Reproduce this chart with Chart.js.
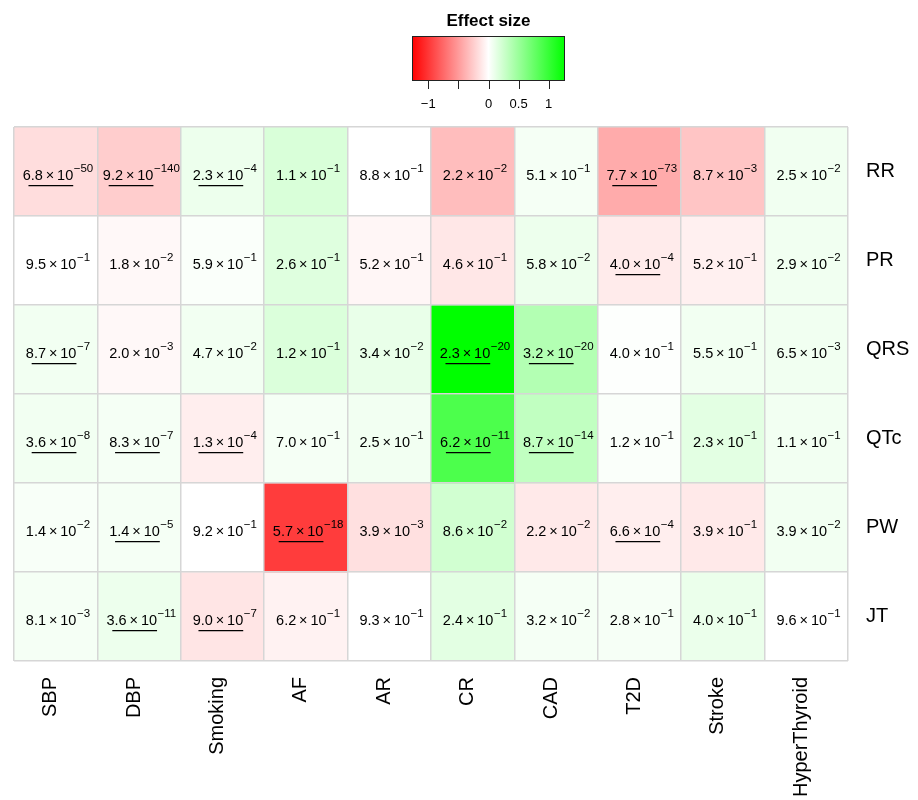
<!DOCTYPE html>
<html>
<head>
<meta charset="utf-8">
<script src="https://cdn.jsdelivr.net/npm/chart.js@4.4.1/dist/chart.umd.min.js"></script>
<style>
  html, body { margin: 0; padding: 0; background: #ffffff; }
  canvas { display: block; }
</style>
</head>
<body>
<canvas id="heat" width="918" height="800"></canvas>
<script>
// Columns: risk factors / diseases; rows: ECG traits
const traits = ['SBP', 'DBP', 'Smoking', 'AF', 'AR', 'CR', 'CAD', 'T2D', 'Stroke', 'HyperThyroid'];
const ecgTraits = ['RR', 'PR', 'QRS', 'QTc', 'PW', 'JT'];

// Effect sizes, one array per ECG trait (same order as traits)
const effRR  = [-0.17, -0.25,  0.09,  0.19,  0.00, -0.33,  0.05, -0.42, -0.29,  0.07];
const effPR  = [ 0.00, -0.035, 0.025, 0.16, -0.045,-0.12,  0.09, -0.10, -0.075, 0.07];
const effQRS = [ 0.065,-0.035, 0.065, 0.18,  0.11,  1.27,  0.38,  0.01,  0.065, 0.07];
const effQTc = [ 0.065, 0.05, -0.085, 0.05,  0.065, 0.89,  0.31,  0.025, 0.14,  0.065];
const effPW  = [ 0.035, 0.05,  0.00, -0.97, -0.155, 0.23, -0.11, -0.085,-0.11,  0.065];
const effJT  = [ 0.05,  0.09, -0.13, -0.065, 0.00,  0.14,  0.05,  0.045, 0.10,  0.00];

// P-values, one array per ECG trait
const pRR  = [6.8e-50, 9.2e-140, 2.3e-4, 1.1e-1, 8.8e-1, 2.2e-2, 5.1e-1, 7.7e-73, 8.7e-3, 2.5e-2];
const pPR  = [9.5e-1, 1.8e-2, 5.9e-1, 2.6e-1, 5.2e-1, 4.6e-1, 5.8e-2, 4.0e-4, 5.2e-1, 2.9e-2];
const pQRS = [8.7e-7, 2.0e-3, 4.7e-2, 1.2e-1, 3.4e-2, 2.3e-20, 3.2e-20, 4.0e-1, 5.5e-1, 6.5e-3];
const pQTc = [3.6e-8, 8.3e-7, 1.3e-4, 7.0e-1, 2.5e-1, 6.2e-11, 8.7e-14, 1.2e-1, 2.3e-1, 1.1e-1];
const pPW  = [1.4e-2, 1.4e-5, 9.2e-1, 5.7e-18, 3.9e-3, 8.6e-2, 2.2e-2, 6.6e-4, 3.9e-1, 3.9e-2];
const pJT  = [8.1e-3, 3.6e-11, 9.0e-7, 6.2e-1, 9.3e-1, 2.4e-1, 3.2e-2, 2.8e-1, 4.0e-1, 9.6e-1];

// Colour key
const effLimit = 1.27;
const keyTicks = [-1, -0.5, 0, 0.5, 1];
const keyTickLabels = ['\u22121', '', '0', '0.5', '1'];

// Bonferroni threshold for underlining (60 tests)
const sigLevel = 0.05 / 60;

const effectRows = [effRR, effPR, effQRS, effQTc, effPW, effJT];
const pRows = [pRR, pPR, pQRS, pQTc, pPW, pJT];

const FONT = '"Liberation Sans", Arial, Helvetica, sans-serif';

function effColour(v) {
  const t = Math.min(1, Math.abs(v) / effLimit);
  const c = Math.round(255 * (1 - t));
  return v < 0 ? `rgb(255,${c},${c})` : `rgb(${c},255,${c})`;
}

// Writes "m.m × 10^-e" in each cell, underlined when significant
const cellLabels = {
  id: 'cellLabels',
  afterDatasetsDraw(chart) {
    const ctx = chart.ctx;
    ctx.save();
    ctx.fillStyle = '#000';
    ctx.strokeStyle = '#000';
    ctx.textBaseline = 'alphabetic';
    ctx.textAlign = 'left';
    chart.data.datasets.forEach((ds, r) => {
      const meta = chart.getDatasetMeta(r);
      meta.data.forEach((bar, c) => {
        const p = pRows[r][c];
        const [mant, ex] = p.toExponential(1).split('e');
        const main = mant + '\u2009\u00d7\u200910';
        const tight = mant + '\u00d710';
        const sup = ex.replace('-', '\u2212');
        ctx.font = '14.5px ' + FONT;
        const wMain = ctx.measureText(main).width;
        const wTight = ctx.measureText(tight).width;
        ctx.font = '11.5px ' + FONT;
        const wSup = ctx.measureText(sup).width;
        const cx = bar.x;
        const cy = (bar.y + bar.base) / 2;
        const x0 = cx - (wMain + wSup) / 2 + 2;
        const base = cy + 8.5;
        ctx.font = '14.5px ' + FONT;
        ctx.fillText(main, x0, base);
        ctx.font = '11.5px ' + FONT;
        ctx.fillText(sup, x0 + wMain + 0.5, base - 8.3);
        if (p < sigLevel) {
          ctx.lineWidth = 1.2;
          ctx.beginPath();
          ctx.moveTo(x0 + wMain - wTight, base + 5.7);
          ctx.lineTo(x0 + wMain, base + 5.7);
          ctx.stroke();
        }
      });
    });
    ctx.restore();
  }
};

// Colour key above the grid
const colourKey = {
  id: 'colourKey',
  afterDraw(chart) {
    const ctx = chart.ctx;
    const left = 412, right = 565, top = 36, bottom = 80;
    const xOf = v => left + (v + effLimit) / (2 * effLimit) * (right - left);
    ctx.save();
    const g = ctx.createLinearGradient(left, 0, right, 0);
    g.addColorStop(0, effColour(-effLimit));
    g.addColorStop(0.5, effColour(0));
    g.addColorStop(1, effColour(effLimit));
    ctx.fillStyle = g;
    ctx.fillRect(left, top, right - left, bottom - top);
    ctx.strokeStyle = '#222';
    ctx.lineWidth = 1;
    ctx.strokeRect(left + 0.5, top + 0.5, right - left - 1, bottom - top);
    ctx.beginPath();
    keyTicks.forEach(v => {
      const x = Math.round(xOf(v)) + 0.5;
      ctx.moveTo(x, bottom);
      ctx.lineTo(x, bottom + 9);
    });
    ctx.stroke();
    ctx.fillStyle = '#000';
    ctx.font = '13px ' + FONT;
    ctx.textAlign = 'center';
    ctx.textBaseline = 'middle';
    keyTicks.forEach((v, i) => {
      if (keyTickLabels[i]) ctx.fillText(keyTickLabels[i], xOf(v), 104);
    });
    ctx.font = 'bold 17px ' + FONT;
    ctx.textBaseline = 'alphabetic';
    ctx.fillText('Effect size', (left + right) / 2, 26);
    ctx.restore();
  }
};

const gridLine = { color: '#d6d6d6', lineWidth: 1.5, offset: true, drawTicks: false, z: 1 };

new Chart(document.getElementById('heat'), {
  type: 'bar',
  data: {
    labels: traits,
    datasets: ecgTraits.map((name, r) => ({
      label: name,
      data: traits.map(() => 1),
      backgroundColor: effectRows[r].map(effColour),
      hoverBackgroundColor: effectRows[r].map(effColour),
      borderWidth: 0,
      barPercentage: 1,
      categoryPercentage: 1,
      stack: 'grid'
    }))
  },
  options: {
    responsive: false,
    animation: false,
    events: [],
    layout: { padding: { left: 14, top: 127, right: 0, bottom: 0 } },
    plugins: { legend: { display: false }, tooltip: { enabled: false } },
    scales: {
      x: {
        stacked: true,
        grid: gridLine,
        border: { display: false },
        ticks: {
          autoSkip: false,
          minRotation: 90,
          maxRotation: 90,
          padding: 16,
          labelOffset: -5,
          color: '#000',
          font: { family: FONT, size: 20 }
        },
        afterFit(scale) { scale.height = 139; }
      },
      y: {
        stacked: true,
        display: false,
        reverse: true,
        min: 0,
        max: ecgTraits.length
      },
      rows: {
        type: 'category',
        labels: ecgTraits,
        position: 'right',
        offset: true,
        grid: gridLine,
        border: { display: false },
        ticks: {
          padding: 18,
          color: '#000',
          font: { family: FONT, size: 20 }
        },
        afterFit(scale) { scale.width = 70; }
      }
    }
  },
  plugins: [cellLabels, colourKey]
});
</script>
</body>
</html>
